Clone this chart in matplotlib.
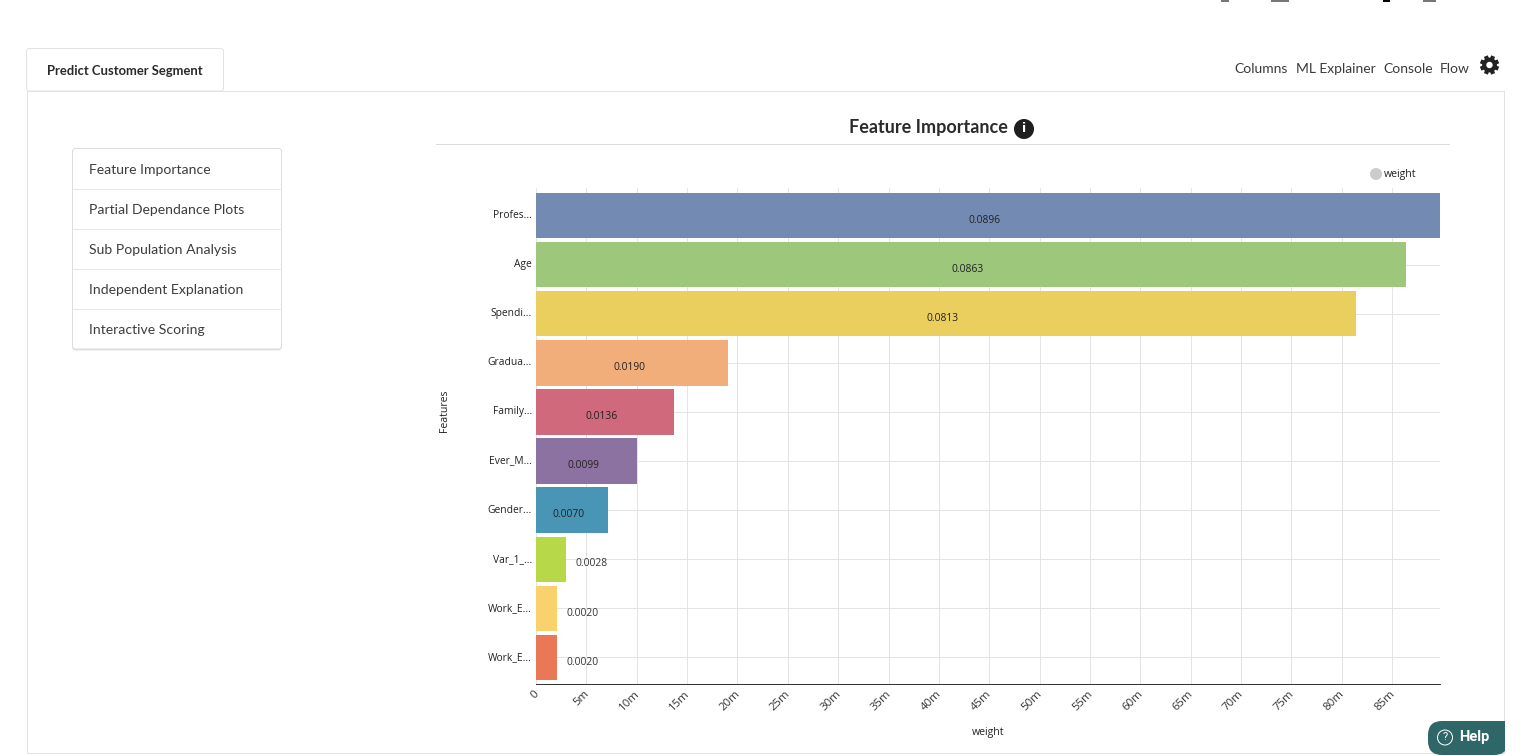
import matplotlib
matplotlib.use('Agg')
import matplotlib.pyplot as plt
import matplotlib.transforms as mtrans
import numpy as np
from matplotlib.patches import Circle, FancyBboxPatch, Rectangle

# chart data, weight in millions (axis reads 5m, 10m ...)
features = ['Profes...', 'Age', 'Spendi...', 'Gradua...', 'Family...',
            'Ever_M...', 'Gender...', 'Var_1_...', 'Work_E...', 'Work_E...']
weights = [89.7, 86.4, 81.4, 19.1, 13.7, 10.0, 7.1, 3.0, 2.1, 2.1]
weight_labels = ['0.0896', '0.0863', '0.0813', '0.0190', '0.0136',
                 '0.0099', '0.0070', '0.0028', '0.0020', '0.0020']
bar_colors = ['#738bb3', '#9dc77a', '#ebcf5e', '#f1ae7b', '#d0697c',
              '#8c72a0', '#4895b6', '#b7d947', '#f9d26e', '#e97857']
xtick_values = list(range(0, 90, 5))
xtick_labels = ['0'] + ['%dm' % v for v in xtick_values[1:]]
menu_items = ['Feature Importance', 'Partial Dependance Plots', 'Sub Population Analysis',
              'Independent Explanation', 'Interactive Scoring']
nav_items = [('Columns', 1234), ('ML Explainer', 1296), ('Console', 1383), ('Flow', 1440)]

W, H = 1529, 756
fig = plt.figure(figsize=(W / 100, H / 100), dpi=100, facecolor='white')

# page furniture is laid out in pixels on a full-figure axes
ui = fig.add_axes([0, 0, 1, 1], zorder=0)
ui.set_xlim(0, W)
ui.set_ylim(H, 0)
ui.axis('off')

BORDER = '#e2e2e2'
LATO = 'Lato'
LW = 0.72  # one pixel

# panel and tab
ui.add_patch(Rectangle((26.5, 91), 1477.5, 661.5, fc='white', ec=BORDER, lw=LW))
ui.add_patch(FancyBboxPatch((26.5, 48.5), 197, 42.5, boxstyle='round,pad=0,rounding_size=3',
                            fc='white', ec=BORDER, lw=LW))
ui.text(47, 71, 'Predict Customer Segment', family=LATO, weight='bold', fontsize=9.4,
        color='#2a2a2a', va='center')

# cropped toolbar icons at the top edge
for x0, x1, c in [(1221, 1229, '#777777'), (1271, 1289, '#777777'),
                  (1383, 1390, '#000000'), (1423, 1436, '#777777')]:
    ui.add_patch(Rectangle((x0, 0), x1 - x0, 2, fc=c, ec='none'))

# nav links and gear
for label, x in nav_items:
    ui.text(x, 69, label, family=LATO, fontsize=10, color='#3a3a3a', va='center')
for a in np.deg2rad(np.arange(0, 180, 45) + 22.5):
    ui.plot([1489.5 - 9.6 * np.cos(a), 1489.5 + 9.6 * np.cos(a)],
            [65 - 9.6 * np.sin(a), 65 + 9.6 * np.sin(a)],
            color='#222222', lw=3, solid_capstyle='butt')
ui.add_patch(Circle((1489.5, 65), 7.4, fc='#222222', ec='none', zorder=3))
ui.add_patch(Circle((1489.5, 65), 3.2, fc='white', ec='none', zorder=4))

# left menu
for off, alpha in [(2.0, 0.05), (1.0, 0.09)]:
    ui.add_patch(FancyBboxPatch((73 - off + 1, 150), 208 + 2 * off - 2, 199 + off,
                                boxstyle='round,pad=0,rounding_size=3',
                                fc='black', ec='none', alpha=alpha))
ui.add_patch(FancyBboxPatch((72.5, 148.5), 209, 200.5, boxstyle='round,pad=0,rounding_size=3',
                            fc='white', ec='#dddddd', lw=LW))
for i, label in enumerate(menu_items):
    ui.text(89, 170 + 40 * i, label, family=LATO, fontsize=10.05, color='#3d3d3d', va='center')
    if i:
        ui.plot([73, 281], [149 + 40 * i] * 2, color='#e8e8e8', lw=LW)

# chart heading
ui.text(928.5, 127.5, 'Feature Importance', family=LATO, weight='bold', fontsize=13,
        color='#2b2b2b', ha='center', va='center')
ui.add_patch(Circle((1024, 129), 10, fc='#1f1f1f', ec='none'))
ui.text(1024, 129, 'i', family='DejaVu Sans', weight='bold', fontsize=9, color='white',
        ha='center', va='center')
ui.plot([436, 1448.5], [144, 144], color='#dcdcdc', lw=LW)

# legend
ui.add_patch(Circle((1376, 174), 6, fc='#cccccc', ec='none'))
ui.text(1384, 174.5, 'weight', family='Open Sans', fontsize=7.6, color='#222222', va='center')

# help button
ui.add_patch(FancyBboxPatch((1428, 721), 80, 34, boxstyle='round,pad=0,rounding_size=14',
                            fc='#2f6668', ec='none'))
ui.add_patch(Rectangle((1505, 721), 5, 34, fc='white', ec='none'))
ui.add_patch(Rectangle((1495, 721), 10, 10, fc='#2f6668', ec='none'))
ui.add_patch(Circle((1445, 737.5), 7.5, fc='none', ec='white', lw=LW))
ui.text(1445, 737.5, '?', family='Roboto', fontsize=8, color='white', ha='center', va='center')
ui.text(1459, 737, 'Help', family='Roboto', weight='bold', fontsize=10.5, color='white', va='center')

# bar chart
left, right, top, bottom = 536, 1439.5, 188, 684
ax = fig.add_axes([left / W, 1 - bottom / H, (right - left) / W, (bottom - top) / H], zorder=1)
ax.patch.set_alpha(0)
positions = list(range(len(features)))
ax.barh(positions, weights, height=0.925, color=bar_colors, edgecolor='none', zorder=3)
ax.set_xlim(0, 89.7)
ax.set_ylim(9.54, -0.56)

for pos, val, label in zip(positions, weights, weight_labels):
    if val > 5:
        ax.text(val / 2 - 0.3, pos + 0.095, label, family='Open Sans', fontsize=7.4,
                color='#222222', ha='center', va='center', zorder=4)
    else:
        ax.text(val + 0.95, pos + 0.095, label, family='Open Sans', fontsize=7.4,
                color='#333333', ha='left', va='center', zorder=4)

ax.set_xticks(xtick_values)
ax.set_xticklabels(xtick_labels, rotation=45, ha='right', rotation_mode='anchor',
                   family='Open Sans', fontsize=8.2, color='#333333')
ax.set_yticks(positions)
ax.set_yticklabels(features, family='Open Sans', fontsize=7.4, color='#222222')
ax.tick_params(axis='both', length=0)
ax.tick_params(axis='x', pad=3)
ax.tick_params(axis='y', pad=3)
# rotated labels sit a little left of their ticks, category labels a little high
for t in ax.get_xticklabels():
    t.set_transform(t.get_transform() + mtrans.ScaledTranslation(-0.03, 0, fig.dpi_scale_trans))
for t in ax.get_yticklabels():
    t.set_transform(t.get_transform() + mtrans.ScaledTranslation(0, 0.015, fig.dpi_scale_trans))
ax.grid(True, color='#e4e4e4', lw=LW, zorder=0)
ax.set_axisbelow(True)
for side in ['top', 'right', 'left']:
    ax.spines[side].set_visible(False)
ax.spines['bottom'].set_color('#333333')
ax.spines['bottom'].set_linewidth(LW)

ax.set_xlabel('weight', family='Open Sans', fontsize=7.6, color='#222222')
ax.xaxis.set_label_coords(0.5, -0.087)
ax.set_ylabel('Features', family='Open Sans', fontsize=7.6, color='#222222')
ax.yaxis.set_label_coords(-0.095, 0.55)

fig.savefig('out.png', dpi=100)
